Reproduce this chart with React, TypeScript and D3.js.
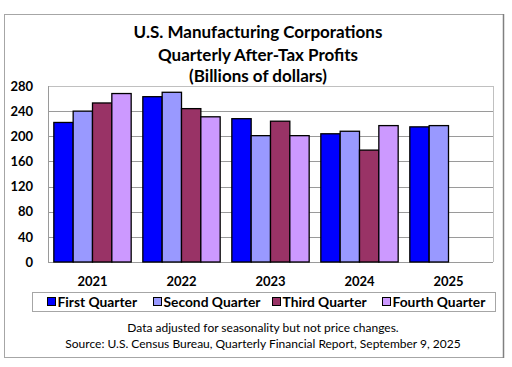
import React from 'react';
import { scaleBand, scaleLinear } from 'd3';

const years = ['2021', '2022', '2023', '2024', '2025'];
const quarters = ['First Quarter', 'Second Quarter', 'Third Quarter', 'Fourth Quarter'];
const colors = ['#0000ff', '#9999ff', '#993366', '#cc99ff'];

// billions of dollars
const q1 = [222, 263, 228, 204, 215];
const q2 = [240, 270, 201, 208, 217];
const q3 = [253, 244, 224, 178, null];
const q4 = [268, 231, 201, 217, null];
const series = [q1, q2, q3, q4];

const yTicks = [0, 40, 80, 120, 160, 200, 240, 280];

const titleLines = [
  'U.S. Manufacturing Corporations',
  'Quarterly After-Tax Profits',
  '(Billions of dollars)',
];
const notes = [
  'Data adjusted for seasonality but not price changes.',
  'Source: U.S. Census Bureau, Quarterly Financial Report, September 9, 2025',
];

const W = 512;
const H = 367;
const plot = { left: 48, right: 493, top: 86, bottom: 262 };
const font = 'Lato, "Open Sans", sans-serif';

export default function App() {
  const x = scaleBand<string>()
    .domain(years)
    .range([plot.left, plot.right])
    .paddingInner(0.131)
    .paddingOuter(0.0655);
  const xq = scaleBand<string>()
    .domain(quarters)
    .range([0, x.bandwidth()]);
  const y = scaleLinear().domain([0, 280]).range([plot.bottom, plot.top]);

  const legendX = [47, 153, 272, 382];
  const titleY = [38, 60.5, 82];

  return (
    <svg
      width={W}
      height={H}
      style={{ position: 'absolute', left: 0, top: 0 }}
      fontFamily={font}
    >
      <rect width={W} height={H} fill='#fff' />
      {/* outer frame */}
      <rect x={4.5} y={14.5} width={499} height={343} fill='none' stroke='#a6a6a6' />
      <line x1={503.5} x2={503.5} y1={14} y2={358} stroke='#808080' strokeWidth={1.5} />

      {titleLines.map((t, i) => (
        <text
          key={t}
          x={258}
          y={titleY[i]}
          textAnchor='middle'
          fontWeight='bold'
          fontSize={17}
          fill='#000'
        >
          {t}
        </text>
      ))}

      {/* grid */}
      {yTicks.map(t => (
        <line
          key={t}
          x1={plot.left}
          x2={plot.right}
          y1={Math.round(y(t)) + 0.5}
          y2={Math.round(y(t)) + 0.5}
          stroke={t === 280 ? '#c0c0c0' : '#9a9a9a'}
        />
      ))}
      <line x1={plot.left + 0.5} x2={plot.left + 0.5} y1={plot.top} y2={plot.bottom} stroke='#9a9a9a' />
      <line x1={plot.right + 0.5} x2={plot.right + 0.5} y1={plot.top} y2={plot.bottom} stroke='#c0c0c0' />

      {yTicks.map(t => (
        <text
          key={t}
          x={33}
          y={y(t)}
          dy='0.36em'
          textAnchor='end'
          fontWeight='bold'
          fontSize={13}
        >
          {t}
        </text>
      ))}

      {/* bars */}
      {years.map((yr, i) => (
        <g key={yr} transform={`translate(${x(yr)},0)`}>
          {series.map((s, j) => {
            const v = s[i];
            if (v == null) return null;
            return (
              <rect
                key={j}
                x={xq(quarters[j])}
                y={y(v)}
                width={xq.bandwidth()}
                height={y(0) - y(v)}
                fill={colors[j]}
                stroke='#000'
                strokeWidth={1.3}
              />
            );
          })}
          <text
            x={x.bandwidth() / 2}
            y={286}
            textAnchor='middle'
            fontWeight='bold'
            fontSize={13}
          >
            {yr}
          </text>
        </g>
      ))}

      {/* legend */}
      <rect x={32.5} y={292.5} width={463} height={19} fill='#fff' stroke='#a6a6a6' />
      {quarters.map((q, j) => (
        <g key={q} transform={`translate(${legendX[j]},302)`}>
          <rect x={0.5} y={-4.5} width={8} height={8} fill={colors[j]} stroke='#000' />
          <text x={10.5} y={0} dy='0.36em' fontWeight='bold' fontSize={13.8}>
            {q}
          </text>
        </g>
      ))}

      {notes.map((n, i) => (
        <text key={n} x={263} y={332 + i * 16} textAnchor='middle' fontSize={12}>
          {n}
        </text>
      ))}
    </svg>
  );
}
